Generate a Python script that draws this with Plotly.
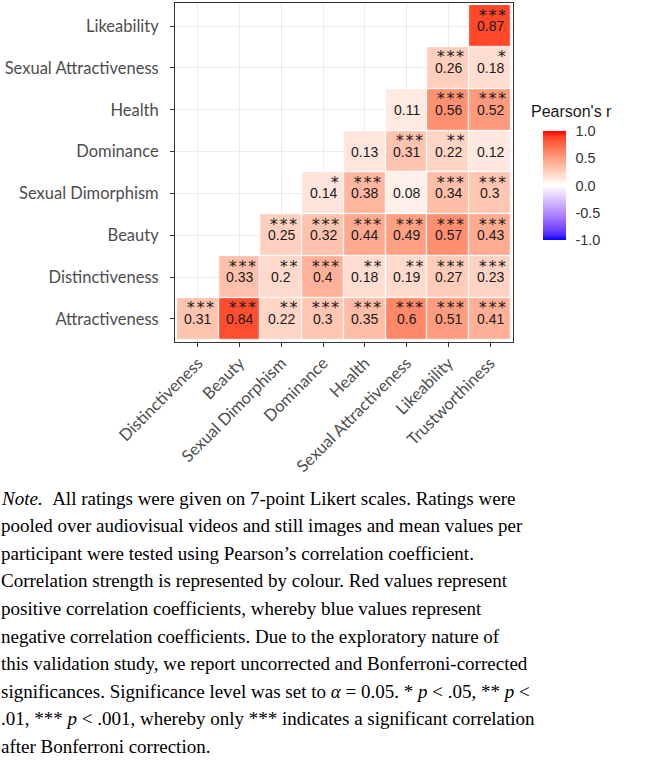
import plotly.graph_objects as go

# ---------------- data ----------------
x_vars = ["Distinctiveness", "Beauty", "Sexual Dimorphism", "Dominance", "Health",
          "Sexual Attractiveness", "Likeability", "Trustworthiness"]
y_vars = ["Attractiveness", "Distinctiveness", "Beauty", "Sexual Dimorphism", "Dominance",
          "Health", "Sexual Attractiveness", "Likeability"]

# rows follow y_vars, columns follow x_vars (None = empty cell)
r_attractiveness = [0.31, 0.84, 0.22, 0.30, 0.35, 0.60, 0.51, 0.41]
r_distinctiveness = [None, 0.33, 0.20, 0.40, 0.18, 0.19, 0.27, 0.23]
r_beauty = [None, None, 0.25, 0.32, 0.44, 0.49, 0.57, 0.43]
r_sexdim = [None, None, None, 0.14, 0.38, 0.08, 0.34, 0.30]
r_dominance = [None, None, None, None, 0.13, 0.31, 0.22, 0.12]
r_health = [None, None, None, None, None, 0.11, 0.56, 0.52]
r_sexattr = [None, None, None, None, None, None, 0.26, 0.18]
r_likeability = [None, None, None, None, None, None, None, 0.87]

s_attractiveness = ["***", "***", "**", "***", "***", "***", "***", "***"]
s_distinctiveness = [None, "***", "**", "***", "**", "**", "***", "***"]
s_beauty = [None, None, "***", "***", "***", "***", "***", "***"]
s_sexdim = [None, None, None, "*", "***", "", "***", "***"]
s_dominance = [None, None, None, None, "", "***", "**", ""]
s_health = [None, None, None, None, None, "", "***", "***"]
s_sexattr = [None, None, None, None, None, None, "***", "*"]
s_likeability = [None, None, None, None, None, None, None, "***"]

z = [r_attractiveness, r_distinctiveness, r_beauty, r_sexdim, r_dominance,
     r_health, r_sexattr, r_likeability]
stars = [s_attractiveness, s_distinctiveness, s_beauty, s_sexdim, s_dominance,
         s_health, s_sexattr, s_likeability]

cbar_ticks = [-1.0, -0.5, 0.0, 0.5, 1.0]
cbar_ticktext = ["-1.0", "-0.5", "0.0", "0.5", "1.0"]

note_lines = [
    "<i>Note.</i>\u00a0\u00a0All ratings were given on 7-point Likert scales. Ratings were",
    "pooled over audiovisual videos and still images and mean values per",
    "participant were tested using Pearson\u2019s correlation coefficient.",
    "Correlation strength is represented by colour. Red values represent",
    "positive correlation coefficients, whereby blue values represent",
    "negative correlation coefficients. Due to the exploratory nature of",
    "this validation study, we report uncorrected and Bonferroni-corrected",
    "significances. Significance level was set to <i>\u03b1</i> = 0.05. * <i>p</i> &lt; .05, ** <i>p</i> &lt;",
    ".01, *** <i>p</i> &lt; .001, whereby only *** indicates a significant correlation",
    "after Bonferroni correction.",
]

# ---------------- colour scale (Lab interpolation like ggplot gradient2) ----------------
def srgb_to_lin(c):
    c = c / 255.0
    return c / 12.92 if c <= 0.04045 else ((c + 0.055) / 1.055) ** 2.4

def lin_to_srgb(c):
    c = max(0.0, min(1.0, c))
    v = 12.92 * c if c <= 0.0031308 else 1.055 * c ** (1 / 2.4) - 0.055
    return int(round(max(0, min(1, v)) * 255))

WHITE = (0.95047, 1.0, 1.08883)

def rgb_to_lab(rgb):
    r, g, b = [srgb_to_lin(v) for v in rgb]
    X = 0.4124 * r + 0.3576 * g + 0.1805 * b
    Y = 0.2126 * r + 0.7152 * g + 0.0722 * b
    Z = 0.0193 * r + 0.1192 * g + 0.9505 * b
    def f(t):
        return t ** (1 / 3) if t > 0.008856 else 7.787 * t + 16 / 116
    fx, fy, fz = f(X / WHITE[0]), f(Y / WHITE[1]), f(Z / WHITE[2])
    return (116 * fy - 16, 500 * (fx - fy), 200 * (fy - fz))

def lab_to_rgb(lab):
    L, a, b = lab
    fy = (L + 16) / 116
    fx = fy + a / 500
    fz = fy - b / 200
    def finv(t):
        return t ** 3 if t ** 3 > 0.008856 else (t - 16 / 116) / 7.787
    X, Y, Z = finv(fx) * WHITE[0], finv(fy) * WHITE[1], finv(fz) * WHITE[2]
    r = 3.2406 * X - 1.5372 * Y - 0.4986 * Z
    g = -0.9689 * X + 1.8758 * Y + 0.0415 * Z
    bb = 0.0557 * X - 0.2040 * Y + 1.0570 * Z
    return "rgb(%d,%d,%d)" % (lin_to_srgb(r), lin_to_srgb(g), lin_to_srgb(bb))

lab_blue = rgb_to_lab((0, 0, 255))
lab_white = rgb_to_lab((255, 255, 255))
lab_red = rgb_to_lab((255, 0, 0))
colorscale = []
n = 20
for i in range(n + 1):
    t = i / n
    if t < 0.5:
        u = t / 0.5
        lab = tuple(lab_blue[k] + (lab_white[k] - lab_blue[k]) * u for k in range(3))
    else:
        u = (t - 0.5) / 0.5
        lab = tuple(lab_white[k] + (lab_red[k] - lab_white[k]) * u for k in range(3))
    colorscale.append([t, lab_to_rgb(lab)])

# ---------------- figure ----------------
L, R, T, B = 175, 132, 3, 420
W, H = 645, 762
plot_w = W - L - R
plot_h = H - T - B

fig = go.Figure()
fig.add_trace(go.Heatmap(
    z=z, x=x_vars, y=y_vars, zmin=-1, zmax=1, colorscale=colorscale,
    xgap=1.2, ygap=1.2, hoverongaps=False,
    colorbar=dict(
        x=(543 - L) / plot_w, xanchor="left",
        y=(H - B - 185.5) / plot_h, yanchor="middle",
        lenmode="pixels", len=109, thickness=23,
        outlinewidth=0,
        tickvals=cbar_ticks, ticktext=cbar_ticktext,
        ticks="outside", ticklen=7, tickcolor="rgba(0,0,0,0)",
        tickfont=dict(family="Liberation Sans", size=14.5, color="#333333"),
        xpad=0, ypad=0,
    ),
))

annotations = []
for i, yv in enumerate(y_vars):
    for j, xv in enumerate(x_vars):
        v = z[i][j]
        if v is None:
            continue
        annotations.append(dict(
            x=xv, y=yv, xref="x", yref="y", text=f"{v:g}", showarrow=False,
            font=dict(family="Liberation Sans", size=14, color="#1a1a1a"),
            yshift=0,
        ))
        s = stars[i][j]
        if s:
            annotations.append(dict(
                x=xv, y=yv, xref="x", yref="y", text=s, showarrow=False,
                xanchor="right", xshift=19, yshift=11,
                font=dict(family="DejaVu Sans Mono", size=16, color="#1a1a1a"),
            ))

# colorbar title
annotations.append(dict(
    x=(529 - L) / plot_w, y=(H - B - 111) / plot_h, xref="paper", yref="paper",
    xanchor="left", yanchor="middle", text="Pearson's r", showarrow=False,
    font=dict(family="Liberation Sans", size=16, color="#1a1a1a"),
))

# note lines
note_y = [498, 525.5, 553, 580.5, 608, 636, 663.5, 691, 718.5, 746]
for txt, py in zip(note_lines, note_y):
    annotations.append(dict(
        x=(-1 - L) / plot_w, y=(H - B - py) / plot_h, xref="paper", yref="paper",
        xanchor="left", yanchor="middle", text=txt, showarrow=False,
        font=dict(family="Liberation Serif", size=19, color="#000000"),
    ))

axis_common = dict(
    showgrid=True, gridcolor="#EBEBEB", gridwidth=1,
    ticks="outside", ticklen=4, tickcolor="#333333", tickwidth=1,
    showline=True, linecolor="#333333", linewidth=1, mirror=True,
    tickfont=dict(family="Lato", size=16.5, color="#4D4D4D"),
    zeroline=False, fixedrange=True,
)

fig.update_layout(
    width=W, height=H,
    margin=dict(l=L, r=R, t=T, b=B),
    paper_bgcolor="white", plot_bgcolor="white",
    xaxis=dict(**axis_common, type="category", categoryorder="array",
               categoryarray=x_vars, range=[-0.55, 7.55], tickangle=-45),
    yaxis=dict(**axis_common, type="category", categoryorder="array",
               categoryarray=y_vars, range=[-0.55, 7.55], ticklabelstandoff=8),
    annotations=annotations,
    showlegend=False,
)

fig.write_html("out.html")
